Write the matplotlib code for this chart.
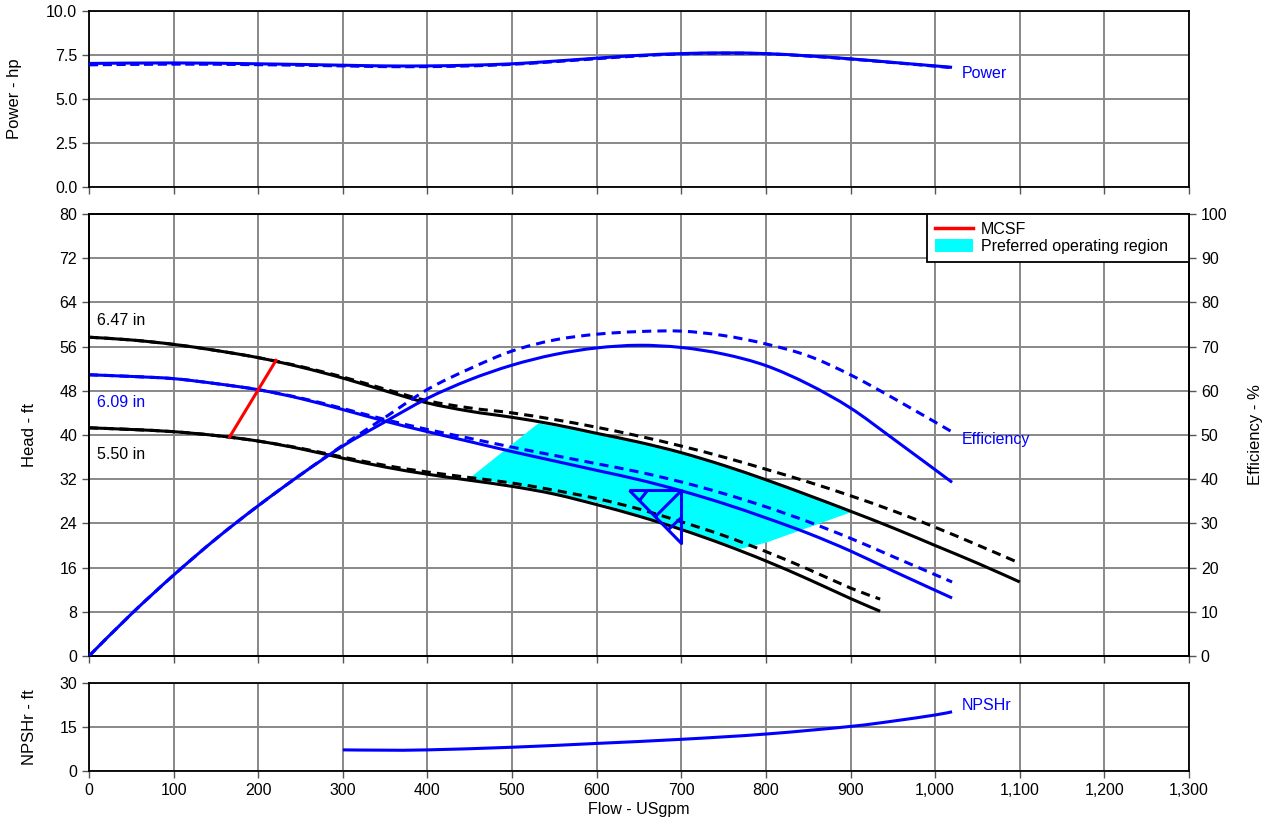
import numpy as np
import matplotlib
matplotlib.use("Agg")
import matplotlib.pyplot as plt
from matplotlib.path import Path
from matplotlib.patches import Patch, PathPatch
from matplotlib.lines import Line2D
from matplotlib.ticker import FuncFormatter, MultipleLocator

plt.rcParams['font.family'] = ['Liberation Sans', 'DejaVu Sans']

# ---- data ----
# head curves (ft) for the three impeller diameters
flow_647 = [0, 50, 100, 150, 200, 250, 300, 350, 400, 450, 500, 550, 600, 650, 700, 750, 800, 850, 900, 950, 1000, 1050, 1100]
head_647 = [57.7, 57.2, 56.4, 55.3, 54.0, 52.3, 50.3, 48.0, 45.8, 44.3, 43.2, 41.9, 40.3, 38.7, 36.8, 34.5, 31.9, 29.1, 26.2, 23.2, 20.0, 16.8, 13.4]
head_647_dash = [57.7, 57.2, 56.4, 55.3, 54.0, 52.4, 50.5, 48.3, 46.2, 44.9, 44.0, 42.8, 41.4, 39.8, 38.0, 36.0, 33.8, 31.5, 29.0, 26.3, 23.3, 20.1, 16.8]

flow_609 = [0, 50, 100, 150, 200, 250, 300, 350, 400, 450, 500, 550, 600, 650, 700, 750, 800, 850, 900, 950, 1020]
head_609 = [50.9, 50.6, 50.2, 49.3, 48.2, 46.6, 44.6, 42.5, 40.6, 38.8, 37.0, 35.3, 33.6, 31.9, 29.9, 27.6, 25.0, 22.2, 19.0, 15.4, 10.5]
head_609_dash = [50.9, 50.6, 50.2, 49.3, 48.2, 46.7, 44.8, 42.8, 41.0, 39.4, 37.8, 36.3, 34.8, 33.3, 31.5, 29.4, 27.0, 24.3, 21.3, 18.0, 13.4]

flow_550 = [0, 50, 100, 150, 200, 250, 300, 350, 400, 450, 500, 550, 600, 650, 700, 750, 800, 850, 900, 935]
head_550 = [41.3, 41.0, 40.6, 39.9, 38.9, 37.5, 35.8, 34.2, 32.9, 31.8, 30.7, 29.3, 27.4, 25.3, 22.9, 20.2, 17.2, 13.9, 10.4, 8.1]
head_550_dash = [41.3, 41.0, 40.6, 39.9, 38.9, 37.6, 36.0, 34.5, 33.3, 32.3, 31.3, 30.0, 28.5, 26.6, 24.3, 21.8, 18.9, 15.7, 12.3, 10.3]

# efficiency (%)
flow_eff = [0, 50, 100, 150, 200, 250, 300, 350, 400, 450, 500, 550, 600, 650, 700, 750, 800, 850, 900, 950, 1020]
eff = [0, 9.5, 18.3, 26.5, 34.0, 41.0, 47.5, 53.0, 58.3, 62.5, 65.8, 68.2, 69.7, 70.3, 69.8, 68.3, 65.7, 61.5, 56.1, 49.2, 39.3]
eff_dash = [0, 9.5, 18.3, 26.5, 34.0, 41.0, 47.7, 54.0, 60.3, 65.0, 69.0, 71.5, 72.8, 73.4, 73.5, 72.5, 70.6, 67.9, 63.6, 58.4, 50.7]

# power (hp)
flow_pow = [0, 100, 200, 300, 350, 400, 450, 500, 550, 600, 650, 700, 750, 800, 850, 900, 950, 1020]
power = [7.02, 7.05, 7.0, 6.92, 6.88, 6.88, 6.92, 7.0, 7.15, 7.32, 7.48, 7.58, 7.62, 7.58, 7.45, 7.28, 7.08, 6.8]
power_dash = [6.94, 6.98, 6.95, 6.88, 6.84, 6.84, 6.88, 6.97, 7.12, 7.29, 7.45, 7.56, 7.60, 7.57, 7.44, 7.27, 7.07, 6.78]

# NPSHr (ft)
flow_npsh = [300, 350, 400, 500, 600, 700, 800, 900, 950, 1000, 1020]
npshr = [7.2, 7.1, 7.2, 8.1, 9.4, 10.8, 12.6, 15.2, 17.0, 19.1, 20.2]

# MCSF line and preferred operating region
mcsf_flow = [166, 221]
mcsf_head = [39.6, 53.5]
por_flow = [450, 531, 600, 700, 800, 902, 800, 770, 700, 600, 500, 450]
por_head = [32.2, 42.1, 40.3, 36.8, 31.9, 26.1, 20.5, 19.4, 23.2, 27.8, 31.1, 32.2]

duty_flow = 700
duty_head = 30

diam_labels = ['6.47 in', '6.09 in', '5.50 in']
x_ticks = list(range(0, 1301, 100))

BLUE = '#0000ff'
GRID = '#888888'
LW = 2.2
FS = 11.5


def smooth_path(x, y):
    # Catmull-Rom curve through the read points, as cubic Bezier segments
    pts = np.column_stack([x, y]).astype(float)
    ext = np.vstack([pts[0], pts, pts[-1]])
    verts = [pts[0]]
    codes = [Path.MOVETO]
    for i in range(len(pts) - 1):
        p0, p1, p2, p3 = ext[i], ext[i + 1], ext[i + 2], ext[i + 3]
        verts += [p1 + (p2 - p0) / 6, p2 - (p3 - p1) / 6, p2]
        codes += [Path.CURVE4] * 3
    return Path(verts, codes)


def curve(ax, x, y, color, ls='-', z=3):
    ax.add_patch(PathPatch(smooth_path(x, y), fill=False, edgecolor=color,
                           lw=LW, ls=ls, zorder=z, capstyle='butt'))


def style_axes(ax):
    ax.set_xlim(0, 1300)
    ax.xaxis.set_major_locator(MultipleLocator(100))
    ax.grid(True, color=GRID, linewidth=1.4)
    ax.set_axisbelow(True)
    for s in ax.spines.values():
        s.set_linewidth(1.3)
        s.set_color('black')
    ax.tick_params(direction='out', length=5, width=1, color='#555555', labelsize=FS)


fig = plt.figure(figsize=(12.66, 8.18), dpi=100)

L, W = 89 / 1266, 1100 / 1266
ax_p = fig.add_axes([L, 1 - 187 / 818, W, 176 / 818])
ax_h = fig.add_axes([L, 1 - 656 / 818, W, 442 / 818])
ax_n = fig.add_axes([L, 1 - 771 / 818, W, 88 / 818])

# ---- power panel ----
style_axes(ax_p)
ax_p.set_ylim(0, 10)
ax_p.yaxis.set_major_locator(MultipleLocator(2.5))
ax_p.yaxis.set_major_formatter(FuncFormatter(lambda v, p: f"{v:.1f}"))
ax_p.tick_params(labelbottom=False)
curve(ax_p, flow_pow, power_dash, BLUE, ls=(0, (3, 1.5)))
curve(ax_p, flow_pow, power, BLUE)
ax_p.text(1032, 6.45, 'Power', color=BLUE, va='center', ha='left', fontsize=FS)
ax_p.set_ylabel('Power - hp', fontsize=12)
ax_p.yaxis.set_label_coords(-0.061, 0.5)

# ---- head / efficiency panel ----
style_axes(ax_h)
ax_h.set_ylim(0, 80)
ax_h.yaxis.set_major_locator(MultipleLocator(8))
ax_h.tick_params(labelbottom=False)
ax_h.set_ylabel('Head - ft', fontsize=12)
ax_h.yaxis.set_label_coords(-0.047, 0.5)

ax_h.fill(por_flow, por_head, color='#00ffff', lw=0, zorder=1)

dash = (0, (3, 2))
curve(ax_h, flow_647, head_647_dash, 'black', ls=dash)
curve(ax_h, flow_647, head_647, 'black')
curve(ax_h, flow_609, head_609_dash, BLUE, ls=dash)
curve(ax_h, flow_609, head_609, BLUE)
curve(ax_h, flow_550, head_550_dash, 'black', ls=dash)
curve(ax_h, flow_550, head_550, 'black')
ax_h.plot(mcsf_flow, mcsf_head, color='red', lw=LW, zorder=4)

ax_h.text(10, 60.8, diam_labels[0], color='black', va='center', fontsize=FS)
ax_h.text(10, 45.8, diam_labels[1], color=BLUE, va='center', fontsize=FS)
ax_h.text(10, 36.4, diam_labels[2], color='black', va='center', fontsize=FS)

# duty point symbol: right triangle with three ticks, corner at the duty point
verts = [(-52, 0), (0, 0), (0, -53), (-52, 0),
         (-34, 0), (-42, -10),
         (0, 0), (-26, -26),
         (0, -27), (-13, -39)]
codes = [Path.MOVETO, Path.LINETO, Path.LINETO, Path.LINETO,
         Path.MOVETO, Path.LINETO,
         Path.MOVETO, Path.LINETO,
         Path.MOVETO, Path.LINETO]
duty_marker = Path(verts, codes)
ax_h.plot([duty_flow], [duty_head], marker=duty_marker, markersize=106 * 72 / 100,
          markerfacecolor='none', markeredgecolor=BLUE, markeredgewidth=2.2,
          ls='none', zorder=5)

ax_e = ax_h.twinx()
ax_e.set_ylim(0, 100)
ax_e.yaxis.set_major_locator(MultipleLocator(10))
ax_e.tick_params(direction='out', length=5, width=1, color='#555555', labelsize=FS)
curve(ax_e, flow_eff, eff_dash, BLUE, ls=dash)
curve(ax_e, flow_eff, eff, BLUE)
ax_e.text(1032, 48.9, 'Efficiency', color=BLUE, va='center', ha='left', fontsize=FS)
ax_e.set_ylabel('Efficiency - %', fontsize=12)
ax_e.yaxis.set_label_coords(1.054, 0.5)
for s in ax_e.spines.values():
    s.set_linewidth(1.3)

handles = [Line2D([], [], color='red', lw=2.5),
           Patch(facecolor='#00ffff', edgecolor='none')]
leg = ax_e.legend(handles, ['MCSF', 'Preferred operating region   '], loc='upper right',
                  bbox_to_anchor=(1.0, 1.0), fancybox=False, framealpha=1,
                  edgecolor='black', fontsize=FS, borderaxespad=0,
                  handlelength=2.4, handleheight=0.9, labelspacing=0.12,
                  borderpad=0.5, handletextpad=0.45)
leg.get_frame().set_linewidth(1.3)

# ---- NPSHr panel ----
style_axes(ax_n)
ax_n.set_ylim(0, 30)
ax_n.yaxis.set_major_locator(MultipleLocator(15))
ax_n.set_xticks(x_ticks)
ax_n.xaxis.set_major_formatter(FuncFormatter(lambda v, p: f"{v:,.0f}"))
curve(ax_n, flow_npsh, npshr, BLUE)
ax_n.text(1032, 22.5, 'NPSHr', color=BLUE, va='center', ha='left', fontsize=FS)
ax_n.set_ylabel('NPSHr - ft', fontsize=12)
ax_n.yaxis.set_label_coords(-0.047, 0.5)
ax_n.set_xlabel('Flow - USgpm', fontsize=11.5)
ax_n.xaxis.set_label_coords(0.5, -0.35)

fig.savefig('out.png', dpi=100)
